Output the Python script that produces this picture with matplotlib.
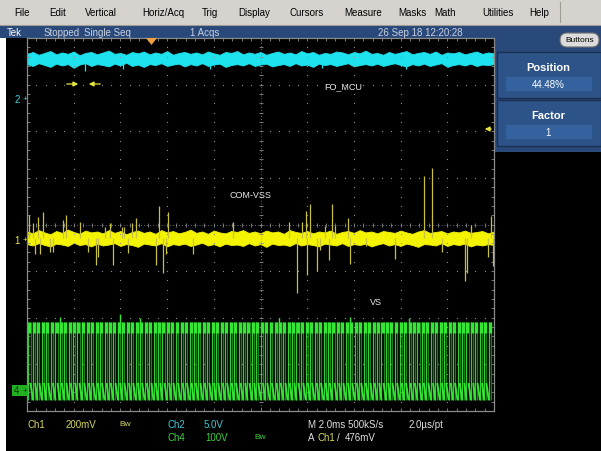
import matplotlib
matplotlib.use("Agg")
import matplotlib.pyplot as plt
from matplotlib.patches import Rectangle, FancyBboxPatch, Polygon
from matplotlib.collections import LineCollection
import numpy as np

# ---------------- data (graticule divisions: x 0..10, y -4..4) ----------------
menu_items = ["File", "Edit", "Vertical", "Horiz/Acq", "Trig", "Display", "Cursors",
              "Measure", "Masks", "Math", "Utilities", "Help"]
menu_x = [14, 49, 85, 142, 202, 238, 290, 344, 398, 434, 482, 529]

# Ch2 (FO_MCU) noise band envelope
cyan_hi = [3.66,3.70,3.64,3.68,3.72,3.65,3.69,3.66,3.71,3.63,3.68,3.70,3.65,3.69,3.73,3.66,3.68,3.64,3.70,3.67,
           3.71,3.65,3.69,3.66,3.72,3.64,3.68,3.70,3.66,3.69,3.65,3.71,3.67,3.64,3.70,3.68,3.72,3.65,3.69,3.66,
           3.70,3.64,3.68,3.71,3.66,3.69,3.65,3.72,3.67,3.70,3.64,3.68,3.66,3.71,3.69,3.65,3.70,3.67,3.73,3.66,
           3.68,3.64,3.70,3.66,3.69,3.72,3.65,3.68,3.70,3.66,3.71,3.64,3.69,3.67,3.70,3.65,3.68,3.71,3.66,3.69,3.67]
cyan_lo = [3.44,3.40,3.46,3.42,3.38,3.45,3.41,3.44,3.36,3.43,3.46,3.40,3.44,3.42,3.39,3.45,3.41,3.47,3.40,3.43,
           3.38,3.44,3.42,3.46,3.40,3.43,3.45,3.39,3.44,3.41,3.46,3.40,3.43,3.45,3.38,3.42,3.44,3.41,3.46,3.40,
           3.43,3.45,3.39,3.42,3.44,3.40,3.46,3.41,3.43,3.38,3.45,3.42,3.44,3.40,3.43,3.46,3.39,3.42,3.44,3.41,
           3.45,3.40,3.43,3.46,3.42,3.39,3.44,3.41,3.45,3.40,3.43,3.46,3.38,3.42,3.44,3.41,3.45,3.40,3.43,3.42,3.44]
cyan_glitch_x = [1.24, 2.05, 3.92, 6.31, 8.12]
cyan_glitch_y = [3.30, 3.34, 3.33, 3.35, 3.34]

# Ch1 (COM-VSS) noise band envelope
yel_hi = [-0.15,-0.19,-0.12,-0.17,-0.21,-0.14,-0.18,-0.11,-0.16,-0.20,-0.13,-0.17,-0.15,-0.19,-0.12,-0.18,-0.14,-0.21,-0.16,-0.13,
          -0.18,-0.15,-0.20,-0.12,-0.17,-0.14,-0.19,-0.16,-0.11,-0.18,-0.15,-0.20,-0.13,-0.17,-0.19,-0.14,-0.16,-0.12,-0.18,-0.15,
          -0.19,-0.13,-0.17,-0.15,-0.20,-0.12,-0.16,-0.18,-0.14,-0.19,-0.15,-0.17,-0.13,-0.20,-0.16,-0.14,-0.18,-0.12,-0.17,-0.15,
          -0.19,-0.14,-0.16,-0.18,-0.13,-0.17,-0.20,-0.15,-0.12,-0.18,-0.16,-0.14,-0.19,-0.15,-0.17,-0.13,-0.18,-0.16,-0.14,-0.19,-0.15]
yel_lo = [-0.42,-0.45,-0.40,-0.44,-0.47,-0.41,-0.43,-0.46,-0.39,-0.44,-0.42,-0.47,-0.41,-0.45,-0.43,-0.40,-0.46,-0.42,-0.44,-0.48,
          -0.41,-0.43,-0.45,-0.40,-0.47,-0.42,-0.44,-0.41,-0.46,-0.43,-0.39,-0.45,-0.42,-0.47,-0.41,-0.44,-0.43,-0.46,-0.40,-0.45,
          -0.42,-0.48,-0.41,-0.44,-0.43,-0.46,-0.40,-0.45,-0.42,-0.44,-0.47,-0.41,-0.43,-0.45,-0.40,-0.46,-0.42,-0.44,-0.41,-0.47,
          -0.43,-0.40,-0.45,-0.42,-0.46,-0.41,-0.44,-0.48,-0.42,-0.43,-0.45,-0.40,-0.46,-0.42,-0.44,-0.41,-0.47,-0.43,-0.45,-0.42,-0.44]
yel_base = -0.29
spike_x = [0.04,0.13,0.17,0.24,0.28,0.34,0.49,0.56,0.77,0.84,1.13,1.31,1.48,1.52,1.67,1.78,1.84,2.03,2.08,2.16,
           2.25,2.33,2.76,2.83,2.91,2.98,3.02,3.55,4.41,5.61,5.78,5.89,5.97,6.00,6.06,6.21,6.27,6.38,6.47,6.53,
           6.60,6.87,6.92,7.26,7.88,8.50,8.67,8.89,9.38,9.42,9.51,9.87,9.94,9.98]
spike_y = [0.21,0.04,-0.64,0.17,-0.64,0.26,-0.58,-0.58,0.09,0.21,0.06,-0.58,-0.86,-0.69,-0.06,0.04,-0.86,-0.06,-0.06,-0.62,
           0.04,0.15,-0.86,0.39,-1.05,-0.64,0.26,-0.64,0.06,0.06,-1.46,0.06,0.30,-1.09,0.43,-0.99,-0.54,-0.04,-0.77,0.43,
           -0.04,0.15,-0.84,-0.47,-0.73,1.03,1.22,-0.60,-1.22,-1.03,0.00,-0.69,0.19,-0.90]

# Ch4 (VS) PWM switching edges
pwm_edges = [0.03,0.13,0.22,0.32,0.41,0.51,0.61,0.70,0.80,0.89,0.99,1.08,1.18,1.28,1.37,1.47,1.56,1.66,1.75,1.85,
             1.95,2.04,2.14,2.23,2.33,2.42,2.52,2.62,2.71,2.81,2.90,3.00,3.09,3.19,3.29,3.38,3.48,3.57,3.67,3.76,
             3.86,3.96,4.05,4.15,4.24,4.34,4.43,4.53,4.63,4.72,4.82,4.91,5.01,5.10,5.20,5.30,5.39,5.49,5.58,5.68,
             5.77,5.87,5.97,6.06,6.16,6.25,6.35,6.44,6.54,6.64,6.73,6.83,6.92,7.02,7.11,7.21,7.31,7.40,7.50,7.59,
             7.69,7.78,7.88,7.98,8.07,8.17,8.26,8.36,8.45,8.55,8.65,8.74,8.84,8.93,9.03,9.12,9.22,9.32,9.41,9.51,
             9.60,9.70,9.79,9.89]
pwm_high_width = 0.045
pwm_top_hi, pwm_top_lo = -2.09, -2.32
pwm_bot_hi, pwm_bot_lo = -3.40, -3.77
overshoot_x = [0.70, 1.99, 2.42, 5.39, 6.92, 8.17]
overshoot_y = [-1.99, -1.93, -2.00, -2.00, -1.98, -2.01]

# ---------------- figure ----------------
W, H = 601, 452
fig = plt.figure(figsize=(6.01, 4.52), dpi=100)
fig.patch.set_facecolor("black")

UI = ["Liberation Sans", "DejaVu Sans"]

bg = fig.add_axes([0, 0, 1, 1])
bg.set_xlim(0, W); bg.set_ylim(H, 0); bg.axis("off")
bg.add_patch(Rectangle((0, 0), W, H, fc="black", ec="none"))
bg.add_patch(Rectangle((0, 39), 6, H, fc="white", ec="none"))
# menu bar
bg.add_patch(Rectangle((0, 0), W, 26, fc="#d6d3ce", ec="none"))
bg.plot([0, W], [25.5, 25.5], color="#a09c94", lw=0.8)
bg.plot([560, 560], [3, 23], color="#a09c94", lw=0.8)
for t, x in zip(menu_items, menu_x):
    bg.text(x, 13.5, t, fontsize=7, color="black", va="center", ha="left", family=UI)
# status bar + right panel
blue = "#28497a"
bg.add_patch(Rectangle((0, 26), W, 13, fc=blue, ec="none"))
bg.add_patch(Rectangle((494, 26), W - 494, 127, fc=blue, ec="none"))
bg.text(7, 32.5, "Tek", fontsize=7, color="white", va="center", family=UI)
bg.text(44, 32.5, "Stopped", fontsize=7, color="#c8d0e0", va="center", family=UI)
bg.text(84, 32.5, "Single Seq", fontsize=7, color="#c8d0e0", va="center", family=UI)
bg.text(190, 32.5, "1 Acqs", fontsize=7, color="#c8d0e0", va="center", family=UI)
bg.text(378, 32.5, "26 Sep 18 12:20:28", fontsize=7, color="#c8d0e0", va="center", family=UI)
bg.add_patch(FancyBboxPatch((560, 34), 39, 14, boxstyle="round,pad=0,rounding_size=7",
                            fc="#dcdcdc", ec="#707070", lw=0.8))
bg.text(579.5, 41, "Buttons", fontsize=6, color="black", ha="center", va="center", family=UI)
for y0, title, val in [(53, "Position", "44.48%"), (101, "Factor", "1")]:
    bg.add_patch(Rectangle((497, y0), 104, 46, fc="#2d5488", ec="#1a2f50", lw=1.0))
    bg.add_patch(Rectangle((506, y0 + 25), 86, 14, fc="#33629f", ec="none"))
    bg.text(548.5, y0 + 15, title, fontsize=8, fontweight="bold", color="white",
            ha="center", va="center", family=UI)
    bg.text(548.5, y0 + 32, val, fontsize=7, color="white", ha="center", va="center", family=UI)

# ---------------- graticule ----------------
ax = fig.add_axes([27 / W, 40 / H, 467 / W, 373 / H])
ax.set_facecolor("black")
ax.set_xlim(0, 10); ax.set_ylim(-4, 4)
gcol = "#8a8a8a"
for s in ax.spines.values():
    s.set_color(gcol); s.set_linewidth(0.9)
ax.set_xticks(np.arange(0, 10.01, 0.2)); ax.set_yticks(np.arange(-4, 4.01, 0.2))
ax.tick_params(direction="in", length=2.5, width=0.6, color=gcol, top=True, right=True,
               labelbottom=False, labelleft=False)
minor_x = np.arange(0.2, 10, 0.2); minor_y = np.arange(-3.8, 4, 0.2)
for gx in range(1, 10):
    if gx != 5:
        ax.plot(np.full_like(minor_y, gx), minor_y, ls="none", marker="s", ms=0.8, color=gcol, mew=0)
for gy in range(-3, 4):
    if gy != 0:
        ax.plot(minor_x, np.full_like(minor_x, gy), ls="none", marker="s", ms=0.8, color=gcol, mew=0)
ax.plot([0, 10], [0, 0], color=gcol, lw=0.6, ls=(0, (1, 2.5)))
ax.plot([5, 5], [-4, 4], color=gcol, lw=0.6, ls=(0, (1, 2.5)))
ax.plot(minor_x, np.zeros_like(minor_x), ls="none", marker="|", ms=3.5, color=gcol, mew=0.6)
ax.plot(np.full_like(minor_y, 5.0), minor_y, ls="none", marker="_", ms=3.5, color=gcol, mew=0.6)

# Ch4 PWM
e = np.array(pwm_edges)
ax.vlines(e + pwm_high_width, pwm_bot_lo, pwm_top_hi, color="#1a7e1a", lw=0.9)
ax.vlines(e, pwm_bot_lo, pwm_top_hi, color="#2fd02f", lw=0.9)
ax.vlines(e + pwm_high_width / 2, pwm_top_lo, pwm_top_hi, color="#35e635", lw=2.4)
segs = [[(a + pwm_high_width, pwm_bot_hi), (b, pwm_bot_lo)] for a, b in zip(e[:-1], e[1:])]
ax.add_collection(LineCollection(segs, colors="#35e635", linewidths=1.4))
ax.vlines(overshoot_x, pwm_top_lo, overshoot_y, color="#35e635", lw=1.0)

# Ch1 spikes + band
ax.vlines(spike_x, yel_base, spike_y, color="#c8c040", lw=0.9)
n = min(len(yel_hi), len(yel_lo))
yx = np.linspace(0, 10, n)
ax.fill_between(yx, yel_lo[:n], yel_hi[:n], color="#f4f400", lw=0.6, ec="#f4f400")

# Ch2 band
n = min(len(cyan_hi), len(cyan_lo))
cx = np.linspace(0, 10, n)
ax.fill_between(cx, cyan_lo[:n], cyan_hi[:n], color="#1ee3ee", lw=0.6, ec="#1ee3ee")
ax.vlines(cyan_glitch_x, 3.5, cyan_glitch_y, color="#1ee3ee", lw=0.9)

# ---------------- overlay (pixel coords) ----------------
ov = fig.add_axes([0, 0, 1, 1], facecolor="none")
ov.set_xlim(0, W); ov.set_ylim(H, 0); ov.axis("off")
ov.add_patch(Polygon([(146, 39), (157, 39), (151.5, 46)], closed=True, fc="#f0a040", ec="none"))
arrow_kw = dict(arrowstyle="-|>", color="#e6e640", lw=0.9, mutation_scale=7)
ov.annotate("", xy=(81, 85), xytext=(64, 85), arrowprops=arrow_kw)
ov.annotate("", xy=(86, 85), xytext=(103, 85), arrowprops=arrow_kw)
ov.annotate("", xy=(482, 130), xytext=(494, 130), arrowprops=arrow_kw)

ov.text(17, 100, "2", fontsize=7, color="#40d0e0", ha="center", va="center", family=UI)
ov.text(25, 100, "+", fontsize=6, color="#40d0e0", ha="center", va="center", family=UI)
ov.text(17, 241, "1", fontsize=7, color="#e6e640", ha="center", va="center", family=UI)
ov.text(25, 241, "+", fontsize=6, color="#e6e640", ha="center", va="center", family=UI)
ov.add_patch(Rectangle((12, 386), 16, 11, fc="#22b022", ec="none"))
ov.text(17, 391.5, "4", fontsize=7, color="#063806", ha="center", va="center", family=UI)
ov.text(25, 391.5, "+", fontsize=6, color="#063806", ha="center", va="center", family=UI)

ov.text(324, 87, "FO_MCU", fontsize=6.5, color="#e8e8e8", va="center", family=UI)
ov.text(230, 196, "COM-VSS", fontsize=6.5, color="#e8e8e8", va="center", family=UI)
ov.text(370, 303, "VS", fontsize=6.5, color="#e8e8e8", va="center", family=UI)

ycol, ccol, gcol4, wcol = "#d8d860", "#40c8d8", "#40d040", "#e0e0e0"
r1, r2 = 425, 438
for x, y, t, c in [(28, r1, "Ch1", ycol), (66, r1, "200mV", ycol), (119, r1, "Bw", ycol),
                   (167, r1, "Ch2", ccol), (204, r1, "5.0V", ccol),
                   (167, r2, "Ch4", gcol4), (205, r2, "100V", gcol4), (254, r2, "Bw", gcol4),
                   (308, r1, "M 2.0ms 500kS/s", wcol), (409, r1, "2.0\u00b5s/pt", wcol),
                   (308, r2, "A", wcol), (318, r2, "Ch1", ycol), (337, r2, "/", wcol),
                   (345, r2, "476mV", wcol)]:
    fs = 6 if t == "Bw" else 7
    ov.text(x, y, t, fontsize=fs, color=c, va="center", ha="left", family=UI)

fig.savefig("out.png", dpi=100, facecolor=fig.get_facecolor())
